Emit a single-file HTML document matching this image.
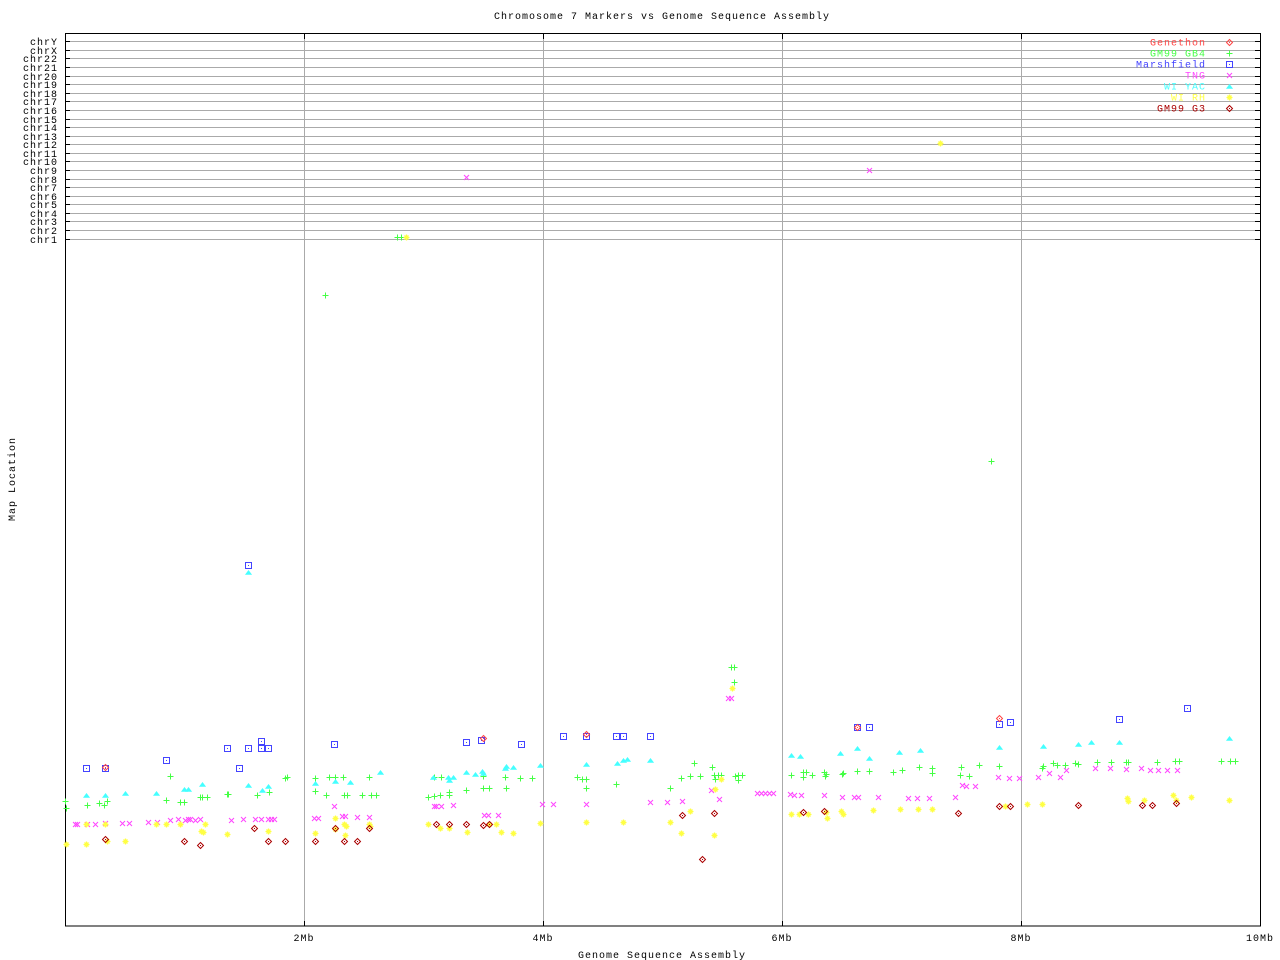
<!DOCTYPE html>
<html><head><meta charset="utf-8">
<style>
html,body{margin:0;padding:0;background:#fff;}
svg{display:block;}
text{font-family:"Liberation Mono","DejaVu Sans Mono",monospace;font-size:10px;letter-spacing:1px;fill:#000;}
</style></head>
<body>
<svg id="s" width="1280" height="960" xmlns="http://www.w3.org/2000/svg">
<rect width="1280" height="960" fill="#fff"/>
<g id="grid"></g>
<g stroke="#aaa" stroke-width="1">
<line x1="304.5" y1="33" x2="304.5" y2="926"/>
<line x1="543.5" y1="33" x2="543.5" y2="926"/>
<line x1="782.5" y1="33" x2="782.5" y2="926"/>
<line x1="1021.5" y1="33" x2="1021.5" y2="926"/>
</g>
<rect x="65.5" y="33.5" width="1195" height="892.5" fill="none" stroke="#000" stroke-width="1"/>
<g stroke="#000">
<line x1="304.5" y1="926" x2="304.5" y2="921"/><line x1="543.5" y1="926" x2="543.5" y2="921"/>
<line x1="782.5" y1="926" x2="782.5" y2="921"/><line x1="1021.5" y1="926" x2="1021.5" y2="921"/>
<line x1="304.5" y1="34" x2="304.5" y2="39"/><line x1="543.5" y1="34" x2="543.5" y2="39"/>
<line x1="782.5" y1="34" x2="782.5" y2="39"/><line x1="1021.5" y1="34" x2="1021.5" y2="39"/>
</g>
<text x="662" y="19" text-anchor="middle">Chromosome 7 Markers vs Genome Sequence Assembly</text>
<text x="662" y="958" text-anchor="middle">Genome Sequence Assembly</text>
<text transform="translate(15,479) rotate(-90)" text-anchor="middle">Map Location</text>
<text x="304" y="941" text-anchor="middle">2Mb</text>
<text x="543" y="941" text-anchor="middle">4Mb</text>
<text x="782" y="941" text-anchor="middle">6Mb</text>
<text x="1021" y="941" text-anchor="middle">8Mb</text>
<text x="1260" y="941" text-anchor="middle">10Mb</text>
<g id="leg"></g>
<g id="pts"></g>
</svg>
<script>
var NS="http://www.w3.org/2000/svg";
function el(p,t,a,txt){var e=document.createElementNS(NS,t);for(var k in a)e.setAttribute(k,a[k]);if(txt)e.textContent=txt;p.appendChild(e);return e;}
var grid=document.getElementById('grid');
var names=['chrY','chrX','chr22','chr21','chr20','chr19','chr18','chr17','chr16','chr15','chr14','chr13','chr12','chr11','chr10','chr9','chr8','chr7','chr6','chr5','chr4','chr3','chr2','chr1'];
for(var i=0;i<24;i++){var y=Math.round(41.3+i*8.58)+0.5;
el(grid,'line',{x1:65,y1:y,x2:1260,y2:y,stroke:'#aaa'});
el(grid,'line',{x1:65,y1:y,x2:70,y2:y,stroke:'#000'});
el(grid,'line',{x1:1255,y1:y,x2:1260,y2:y,stroke:'#000'});
el(grid,'text',{x:58,y:y+3.5,'text-anchor':'end'},names[i]);}
var C={gen:'#f44',gb4:'#4f4',mar:'#44f',tng:'#f4f',yac:'#4ff',rh:'#ff4',g3:'#a00'};
function mk(p,type,x,y){x=Math.round(x)+0.5;y=Math.round(y)+0.5;var c=C[type];var d;
switch(type){
case 'gb4':el(p,'path',{d:'M'+(x-3)+' '+y+'h6M'+x+' '+(y-3)+'v6',stroke:c,fill:'none'});break;
case 'tng':el(p,'path',{d:'M'+(x-2.5)+' '+(y-2.5)+'l5 5M'+(x+2.5)+' '+(y-2.5)+'l-5 5',stroke:c,fill:'none'});break;
case 'mar':el(p,'rect',{x:x-3,y:y-3,width:6,height:6,stroke:c,fill:'none'});el(p,'rect',{x:x-0.5,y:y-0.5,width:1,height:1,fill:c});break;
case 'yac':el(p,'path',{d:'M'+(x-3)+' '+(y+2)+'L'+x+' '+(y-2)+'L'+(x+3)+' '+(y+2)+'Z',fill:c,stroke:c,'stroke-width':0.6});break;
case 'rh':el(p,'path',{d:'M'+(x-3)+' '+y+'h6M'+x+' '+(y-3)+'v6M'+(x-2)+' '+(y-2)+'l4 4M'+(x+2)+' '+(y-2)+'l-4 4',stroke:c,fill:'none','stroke-width':1.3});break;
default:el(p,'path',{d:'M'+x+' '+(y-3)+'L'+(x+3)+' '+y+'L'+x+' '+(y+3)+'L'+(x-3)+' '+y+'Z',stroke:c,fill:'none'});el(p,'rect',{x:x-0.5,y:y-0.5,width:1,height:1,fill:c});}}
var leg=document.getElementById('leg');
var L=[['Genethon','gen'],['GM99 GB4','gb4'],['Marshfield','mar'],['TNG','tng'],['WI YAC','yac'],['WI RH','rh'],['GM99 G3','g3']];
for(var i=0;i<7;i++){var y=42+i*11;el(leg,'text',{x:1206,y:y+3.5,'text-anchor':'end',style:'fill:'+C[L[i][1]]},L[i][0]);mk(leg,L[i][1],1229,y);}
var P={
mar:[[86,768],[105,768],[166,760],[227,748],[248,748],[261,748],[261,741],[268,748],[239,768],[334,744],[248,565],[466,742],[481,740],[521,744],[563,736],[586,736],[616,736],[623,736],[650,736],[857,727],[869,727],[999,724],[1010,722],[1119,719],[1187,708]],
gb4:[[65,801],[66,808],[87,805],[99,803],[104,805],[107,801],[166,800],[170,776],[180,802],[184,802],[200,797],[202,797],[207,797],[227,794],[228,794],[257,795],[269,792],[287,777],[285,778],[315,778],[315,791],[326,795],[329,777],[335,777],[343,777],[344,795],[347,795],[362,795],[369,777],[371,795],[376,795],[325,295],[397,237],[401,237],[991,461],
[428,797],[434,796],[440,795],[449,795],[434,777],[441,777],[449,792],[466,790],[483,776],[483,788],[489,788],[505,777],[506,788],[520,778],[532,778],[577,777],[582,779],[586,779],[586,788],[616,784],[670,788],[681,778],[690,776],[694,763],[700,776],[712,767],[714,775],[715,779],[718,775],[721,775],[735,776],[738,775],[742,775],[738,780],[731,667],[734,667],[734,682],
[791,775],[803,772],[803,777],[806,772],[812,775],[824,772],[825,776],[826,774],[842,774],[843,773],[857,771],[869,771],[893,772],[902,770],[932,768],[932,773],[919,767],[961,767],[969,776],[960,775],[979,765],[999,766],[1043,766],[1042,768],[1053,763],[1057,765],[1065,765],[1075,763],[1078,764],[1097,762],[1111,762],[1126,762],[1128,762],[1157,762],[1175,761],[1179,761],[1221,761],[1230,761],[1235,761]],
yac:[[86,795],[105,795],[125,793],[156,793],[184,789],[188,789],[202,784],[248,785],[262,790],[268,786],[315,783],[335,781],[350,782],[380,772],[248,572],[433,777],[448,777],[449,780],[453,777],[466,772],[475,774],[482,771],[483,773],[505,768],[506,766],[513,767],[540,765],[586,764],[617,763],[623,760],[627,759],[650,760],[791,755],[800,756],[840,753],[857,748],[869,758],[899,752],[920,750],[999,747],[1043,746],[1078,744],[1091,742],[1119,742],[1229,738]],
tng:[[75,824],[77,824],[87,824],[95,824],[105,823],[122,823],[129,823],[148,822],[157,822],[170,820],[178,819],[185,820],[188,819],[190,819],[195,820],[200,819],[231,820],[243,819],[255,819],[261,819],[268,819],[271,819],[274,819],[314,818],[318,818],[334,806],[342,816],[345,816],[357,817],[369,817],[434,806],[436,806],[441,806],[453,805],[484,815],[488,815],[498,815],[542,804],[553,804],[586,804],[650,802],[667,802],[682,801],[711,790],[719,799],[728,698],[731,698],[757,793],[761,793],[765,793],[769,793],[773,793],[466,177],[869,170],
[790,794],[794,795],[801,795],[824,795],[842,797],[854,797],[858,797],[878,797],[908,798],[917,798],[929,798],[955,797],[975,786],[966,786],[962,785],[998,777],[1009,778],[1019,778],[1038,777],[1049,773],[1060,777],[1066,770],[1095,768],[1110,768],[1126,769],[1141,768],[1150,770],[1158,770],[1167,770],[1177,770]],
rh:[[66,844],[86,844],[107,841],[125,841],[86,824],[105,824],[156,824],[166,824],[180,824],[201,831],[203,832],[205,824],[227,834],[268,831],[315,833],[335,829],[344,824],[346,826],[335,818],[345,835],[369,824],[370,826],[406,237],[940,143],
[428,824],[440,828],[449,828],[467,832],[489,824],[496,824],[501,832],[513,833],[540,823],[586,822],[623,822],[670,822],[681,833],[690,811],[714,835],[715,789],[721,779],[732,688],
[791,814],[799,814],[841,811],[843,814],[873,810],[900,809],[918,809],[932,809],[1027,804],[1042,804],[1127,798],[1128,801],[1144,800],[1173,795],[1176,800],[1191,797],[1229,800],[827,818],[826,812],[808,814],[1005,806]],
g3:[[105,839],[184,841],[200,845],[254,828],[268,841],[285,841],[315,841],[335,828],[344,841],[357,841],[369,828],[436,824],[449,824],[466,824],[483,825],[489,824],[682,815],[714,813],[702,859],[803,812],[824,811],[958,813],[999,806],[1010,806],[1078,805],[1142,805],[1152,805],[1176,803]],
gen:[[999,718],[857,727],[105,767],[483,738],[586,734]]};
var g=document.getElementById('pts');
['gb4','yac','tng','rh','mar','g3','gen'].forEach(function(t){P[t].forEach(function(p){mk(g,t,p[0],p[1]);});});
</script>
</body></html>
